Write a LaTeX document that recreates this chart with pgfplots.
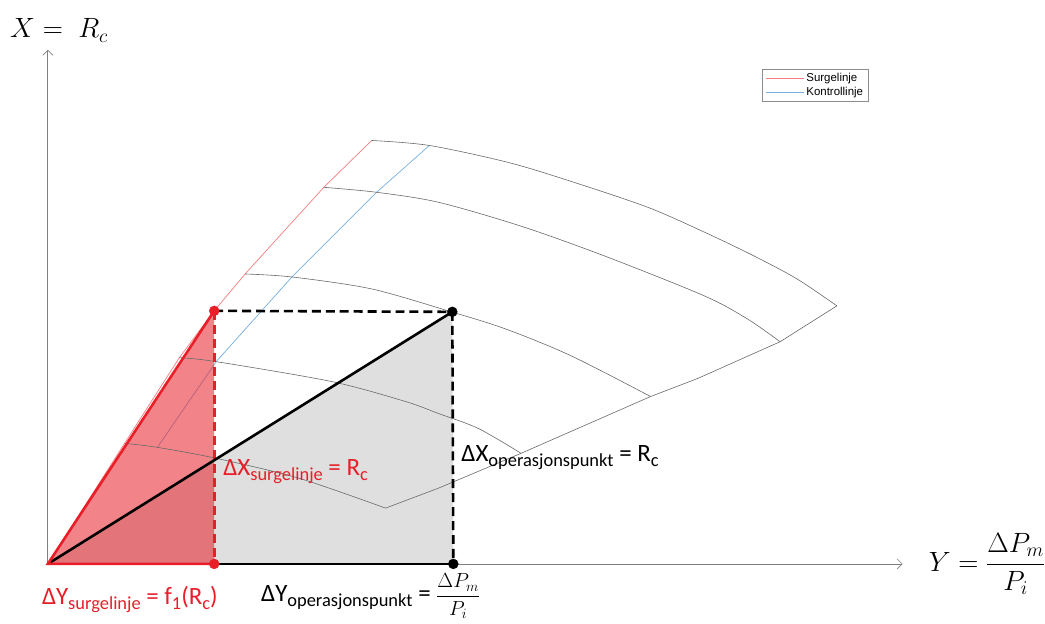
\RequirePackage{fix-cm}
\documentclass[border=0pt]{standalone}
\usepackage{amsmath}
\usepackage{fontspec}
\setmainfont{Carlito}
\newfontfamily\arialf{Liberation Sans}
\usepackage{pgfplots}
\pgfplotsset{compat=1.18}
\usetikzlibrary{arrows.meta}
\definecolor{sred}{RGB}{232,30,40}
\definecolor{surgec}{RGB}{245,125,125}
\definecolor{ctrlc}{RGB}{115,175,225}
\definecolor{gridc}{RGB}{105,105,105}
\newcommand\sub[1]{\raisebox{-0.2em}{\fontsize{18.5}{20}\selectfont #1}}
\begin{document}
\begin{tikzpicture}
\begin{axis}[hide axis, scale only axis, width=1045pt, height=626pt,
  xmin=0, xmax=1045, ymin=0, ymax=626, y dir=reverse, clip=false,
  legend style={at={(axis cs:765,69)}, anchor=north west, draw=gray!90,
    font=\fontsize{11.5}{13}\selectfont\arialf, inner xsep=3pt, inner ysep=2.5pt, row sep=0pt,
    cells={anchor=west}, line width=0.8pt}]
\path (axis cs:0,0) rectangle (axis cs:1045,626);
% legend series
\addplot[color=surgec, line width=0.7pt,
  legend image code/.code={\draw[surgec, line width=1pt] (0pt,0pt) -- (38pt,0pt);}]
  coordinates {(48,566)(125,445)(180,359)(215,312)(246,275)(325,188)(373,141)};
\addlegendentry{Surgelinje}
\addplot[color=ctrlc, line width=0.7pt,
  legend image code/.code={\draw[ctrlc, line width=1pt] (0pt,0pt) -- (38pt,0pt);}]
  coordinates {(431,146)(378,193)(293,278)(217,363)(158,449)};
\addlegendentry{Kontrollinje}
% fills
\addplot[fill=gray!25, draw=none, forget plot] coordinates {(48,566)(454,313)(455,566)} -- cycle;
\addplot[fill=sred, fill opacity=0.55, draw=none, forget plot] coordinates {(48,566)(215,312)(215,566)} -- cycle;
% speed lines
\addplot[gridc, line width=0.6pt, smooth, forget plot] coordinates {(373,141)(431,146)(510,163)(573,182)(650,208)(707,233)(757,257)(800,280)(840,307)};
\addplot[gridc, line width=0.6pt, smooth, forget plot] coordinates {(325,188)(378,193)(440,203)(523,227)(607,257)(707,297)(750,320)(783,343)};
\addplot[gridc, line width=0.6pt, smooth, forget plot] coordinates {(246,275)(293,278)(373,290)(453,313)(507,330)(573,357)(653,398)};
\addplot[gridc, line width=0.6pt, smooth, forget plot] coordinates {(180,359)(217,363)(333,383)(407,403)(440,415)(480,430)(523,455)};
\addplot[gridc, line width=0.6pt, smooth, forget plot] coordinates {(125,445)(158,449)(217,460)(300,480)(387,510)};
\addplot[gridc, line width=0.6pt, forget plot] coordinates {(387,510)(440,490)(523,455)(653,398)(700,380)(783,343)(840,307)};
% axes
\addplot[gray, line width=0.7pt, -{Straight Barb[length=5pt,width=10pt]}, forget plot] coordinates {(48,566)(48,50)};
\addplot[gray, line width=0.7pt, -{Straight Barb[length=5pt,width=10pt]}, forget plot] coordinates {(48,566)(906,566)};
% thick lines
\addplot[black, line width=2.6pt, dash pattern=on 9pt off 5pt, forget plot] coordinates {(215,312)(454,313)};
\addplot[black, line width=2.6pt, dash pattern=on 9pt off 5pt, forget plot] coordinates {(454,313)(455,566)};
\addplot[sred, line width=2.6pt, dash pattern=on 9pt off 5pt, forget plot] coordinates {(215,312)(215,566)};
\addplot[black, line width=2.6pt, forget plot] coordinates {(48,566)(454,313)};
\addplot[black, line width=2.6pt, forget plot] coordinates {(215,566)(455,566)};
\addplot[sred, line width=2.6pt, forget plot] coordinates {(215,312)(48,566)(215,566)};
% dots
\addplot[only marks, mark=*, mark size=5pt, sred, forget plot] coordinates {(215,312)(215,566)};
\addplot[only marks, mark=*, mark size=5pt, black, forget plot] coordinates {(454,313)(455,566)};
% labels
\node[anchor=base west, inner sep=0pt, font=\fontsize{28}{32}\selectfont] at (axis cs:10,38) {$X =\; R_c$};
\node[anchor=west, inner sep=0pt, font=\fontsize{28}{32}\selectfont] at (axis cs:932,566) {$Y = \dfrac{\Delta P_m}{P_i}$};
\node[anchor=base west, inner sep=0pt, text=sred, font=\fontsize{25}{28}\selectfont] at (axis cs:224,477) {ΔX\sub{surgelinje} = R\sub{c}};
\node[anchor=base west, inner sep=0pt, font=\fontsize{25}{28}\selectfont] at (axis cs:463,463) {ΔX\sub{operasjonspunkt} = R\sub{c}};
\node[anchor=base west, inner sep=0pt, text=sred, font=\fontsize{25}{28}\selectfont] at (axis cs:42,607) {ΔY\sub{surgelinje} = f\sub{1}(R\sub{c})};
\node[anchor=base west, inner sep=0pt, font=\fontsize{25}{28}\selectfont] at (axis cs:262,604) {ΔY\sub{operasjonspunkt} = \fontsize{20.5}{24}\selectfont$\dfrac{\Delta P_m}{P_i}$};
\end{axis}
\end{tikzpicture}
\end{document}
